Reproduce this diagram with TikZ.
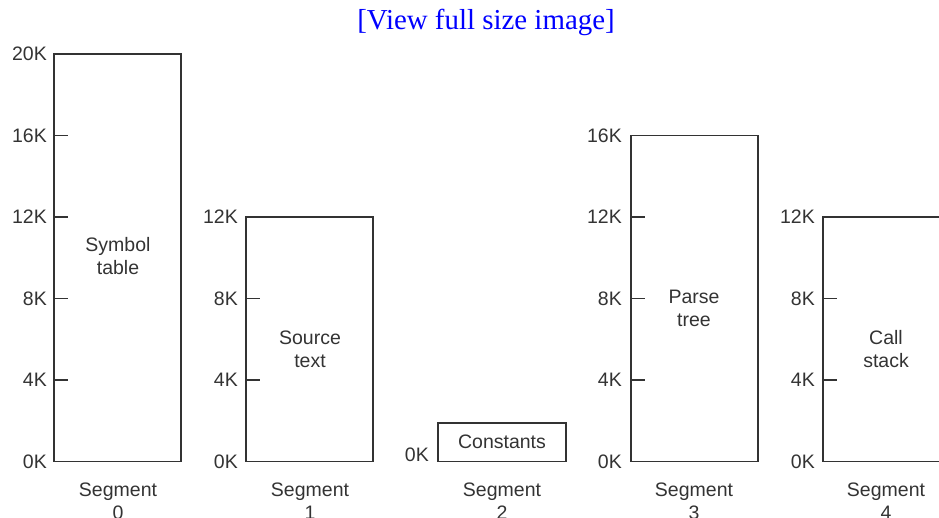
\documentclass[tikz,border=0pt]{standalone}
\usepackage{fontspec}
\setmainfont{Liberation Sans}
\newfontfamily\titlefont{Liberation Serif}
\begin{document}
\begin{tikzpicture}[x=1pt,y=-1pt,
  segbox/.style={draw=black!80, line width=1.6pt},
  tick/.style={draw=black!80, line width=1.6pt},
  lbl/.style={font=\fontsize{19.5}{23}\selectfont, text=black!80, inner sep=0pt},
  klbl/.style={lbl, anchor=east},
  mid/.style={lbl, align=center}]
\useasboundingbox (0,0) rectangle (939,517);
\node[font=\titlefont\fontsize{28.9}{30}\selectfont, text={rgb,255:red,0;green,0;blue,255}, inner sep=0pt] (title) at (486,22) {[View full size image]};
% Segment 0
\coordinate (a0) at (54,54); \coordinate (b0) at (181,461.5);
\draw[segbox] (a0) rectangle (b0);
\foreach \y in {135.5,217,298.5,380} \draw[tick] (54,\y) -- (68,\y);
\node[klbl] (k0a) at (47,54) {20K};
\node[klbl] (k0b) at (47,135.5) {16K};
\node[klbl] (k0c) at (47,217) {12K};
\node[klbl] (k0d) at (47,298.5) {8K};
\node[klbl] (k0e) at (47,380) {4K};
\node[klbl] (k0f) at (47,461.5) {0K};
\node[mid] (t0) at (118,256) {Symbol\\table};
\node[mid] (s0) at (118,501) {Segment\\0};
% Segment 1
\coordinate (a1) at (246,217); \coordinate (b1) at (373,461.5);
\draw[segbox] (a1) rectangle (b1);
\foreach \y in {298.5,380} \draw[tick] (246,\y) -- (260,\y);
\node[klbl] (k1c) at (238,217) {12K};
\node[klbl] (k1d) at (238,298.5) {8K};
\node[klbl] (k1e) at (238,380) {4K};
\node[klbl] (k1f) at (238,461.5) {0K};
\node[mid] (t1) at (310,349.5) {Source\\text};
\node[mid] (s1) at (310,501) {Segment\\1};
% Segment 2
\coordinate (a2) at (438,423); \coordinate (b2) at (566,461.5);
\draw[segbox] (a2) rectangle (b2);
\node[klbl] (k2f) at (429,455) {0K};
\node[mid] (t2) at (502,441.5) {Constants};
\node[mid] (s2) at (502,501) {Segment\\2};
% Segment 3
\coordinate (a3) at (631,135.5); \coordinate (b3) at (758,461.5);
\draw[segbox] (a3) rectangle (b3);
\foreach \y in {217,298.5,380} \draw[tick] (631,\y) -- (645,\y);
\node[klbl] (k3b) at (622,135.5) {16K};
\node[klbl] (k3c) at (622,217) {12K};
\node[klbl] (k3d) at (622,298.5) {8K};
\node[klbl] (k3e) at (622,380) {4K};
\node[klbl] (k3f) at (622,461.5) {0K};
\node[mid] (t3) at (694,308.5) {Parse\\tree};
\node[mid] (s3) at (694,501) {Segment\\3};
% Segment 4
\coordinate (a4) at (823,217); \coordinate (b4) at (950,461.5);
\draw[segbox] (a4) rectangle (b4);
\foreach \y in {298.5,380} \draw[tick] (823,\y) -- (837,\y);
\node[klbl] (k4c) at (815,217) {12K};
\node[klbl] (k4d) at (815,298.5) {8K};
\node[klbl] (k4e) at (815,380) {4K};
\node[klbl] (k4f) at (815,461.5) {0K};
\node[mid] (t4) at (886,349.5) {Call\\stack};
\node[mid] (s4) at (886,501) {Segment\\4};
\end{tikzpicture}
\end{document}
